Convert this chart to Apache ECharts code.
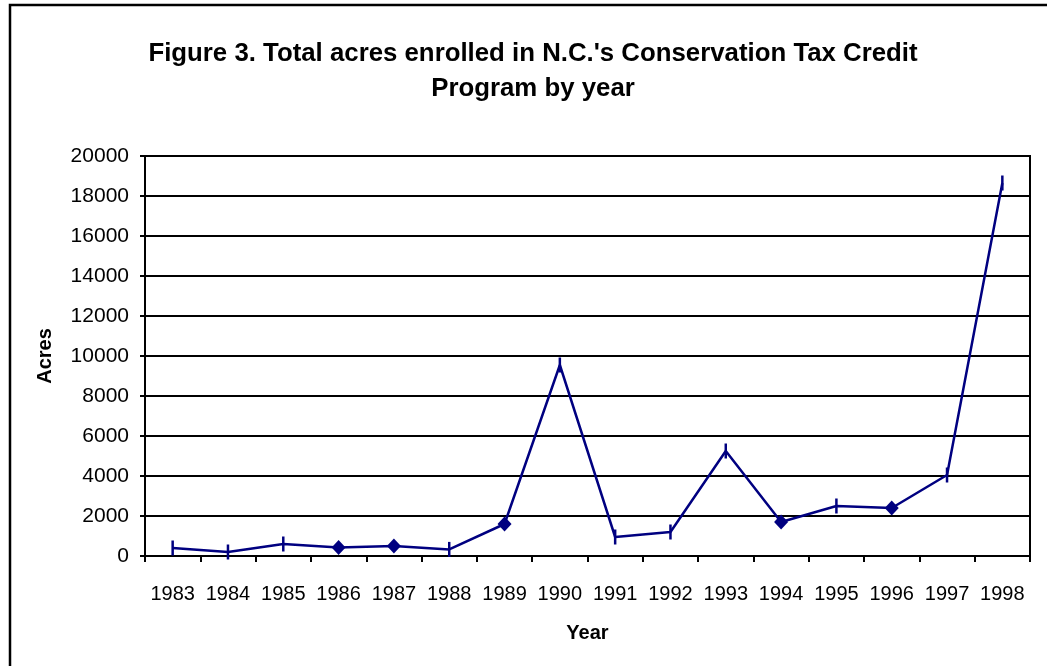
<!DOCTYPE html>
<html>
<head>
<meta charset="utf-8">
<script src="https://cdn.jsdelivr.net/npm/echarts@6/dist/echarts.min.js"></script>
<style>html,body{margin:0;padding:0;background:#fff;}#chart{width:1047px;height:666px;}</style>
</head>
<body>
<div id="chart"></div>
<script>
const years = ['1983','1984','1985','1986','1987','1988','1989','1990','1991','1992','1993','1994','1995','1996','1997','1998'];
const acres = [400, 200, 600, 430, 500, 330, 1600, 9550, 950, 1200, 5250, 1700, 2500, 2400, 4050, 18650];
const markerKinds = ['bar','bar','bar','diamond','diamond','bar','diamond','bar','bar','bar','bar','diamond','bar','diamond','bar','bar'];
const yTicks = { min: 0, max: 20000, interval: 2000 };
const titleText = "Figure 3. Total acres enrolled in N.C.'s Conservation Tax Credit\nProgram by year";

const FONT = 'Arial, "Liberation Sans", sans-serif';
const seriesData = acres.map((v, i) => markerKinds[i] === 'diamond'
  ? { value: v, symbol: 'diamond', symbolSize: [14, 15] }
  : { value: v, symbol: 'rect', symbolSize: [2.5, 15] });

const chart = echarts.init(document.getElementById('chart'), null, { renderer: 'canvas' });
chart.setOption({
  animation: false,
  backgroundColor: '#fff',
  graphic: [{
    type: 'rect', z: -10, silent: true,
    shape: { x: 10, y: 5, width: 1100, height: 700 },
    style: { fill: 'none', stroke: '#000', lineWidth: 2.5 }
  }],
  title: {
    text: titleText,
    left: 528, top: 31, textAlign: 'center',
    textStyle: { fontFamily: FONT, fontWeight: 'bold', fontSize: 25.8, lineHeight: 35, color: '#000', align: 'center' }
  },
  grid: { left: 145, right: 17, top: 156, bottom: 110, show: true, borderColor: '#000', borderWidth: 2, containLabel: false },
  xAxis: {
    type: 'category', data: years, boundaryGap: true,
    name: 'Year', nameLocation: 'middle', nameGap: 67,
    nameTextStyle: { fontFamily: FONT, fontWeight: 'bold', fontSize: 20, color: '#000' },
    axisLine: { lineStyle: { color: '#000', width: 2 } },
    axisTick: { show: true, inside: false, length: 6, lineStyle: { color: '#000', width: 2 } },
    axisLabel: { fontFamily: FONT, fontSize: 20, color: '#000', margin: 28, interval: 0 },
    splitLine: { show: false }
  },
  yAxis: {
    type: 'value', min: yTicks.min, max: yTicks.max, interval: yTicks.interval,
    name: 'Acres', nameLocation: 'middle', nameGap: 90, nameRotate: 90,
    nameTextStyle: { fontFamily: FONT, fontWeight: 'bold', fontSize: 20, color: '#000' },
    axisLine: { show: true, lineStyle: { color: '#000', width: 2 } },
    axisTick: { show: true, length: 5, lineStyle: { color: '#000', width: 2 } },
    axisLabel: { fontFamily: FONT, fontSize: 21, color: '#000', margin: 16, formatter: v => String(v) },
    splitLine: { show: true, lineStyle: { color: '#000', width: 2 } }
  },
  series: [{
    type: 'line', data: seriesData,
    lineStyle: { color: '#000080', width: 2.5 },
    itemStyle: { color: '#000080' },
    showSymbol: true, showAllSymbol: true
  }]
});
</script>
</body>
</html>
